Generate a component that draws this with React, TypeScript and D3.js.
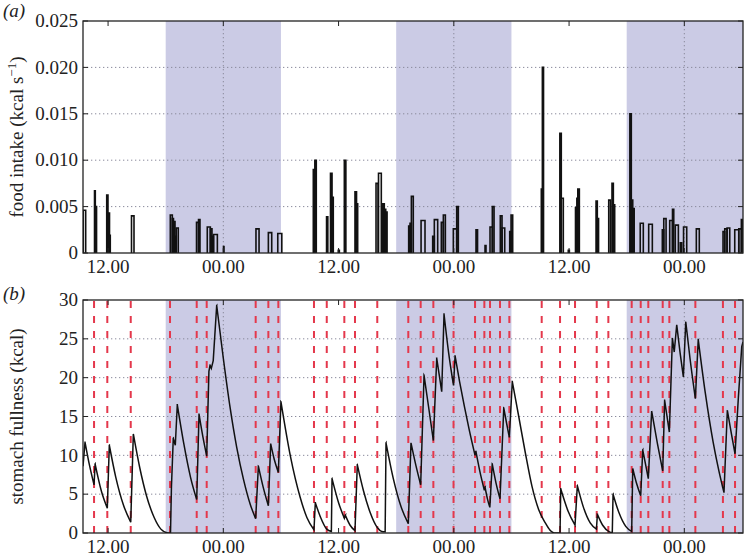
import React from 'react';
import * as d3 from 'd3';

// ---- data (hours since day-1 midnight) ----
const xTickHours = [12, 24, 36, 48, 60, 72];
const xTickLabels = ['12.00', '00.00', '12.00', '00.00', '12.00', '00.00'];
const nightStart = [18, 42, 66];
const nightEnd = [30, 54, 78.11];

const intakeTicks = [0, 0.005, 0.01, 0.015, 0.02, 0.025];
const intakeTickLabels = ['0', '0.005', '0.010', '0.015', '0.020', '0.025'];
const fullnessTicks = [0, 5, 10, 15, 20, 25, 30];
const fullnessTickLabels = ['0', '5', '10', '15', '20', '25', '30'];

// feeding bouts: start (h), end (h), rate (kcal/s)
const mealStart = [
  9.42, 10.59, 10.67, 11.86, 11.99, 12.15, 14.44, 18.48, 18.69, 18.81, 18.97, 19.1,
  21.21, 21.42, 22.33, 22.65, 22.82, 22.98, 24.02, 27.4, 28.69, 29.67,
  33.37, 33.53, 34.75, 35.16, 35.32, 35.97, 36.6, 37.71, 37.87,
  39.9, 40.16, 40.6, 40.76, 40.91,
  43.3, 43.44, 43.58, 44.59, 45.8, 45.97, 46.7, 46.91, 47.95, 48.3, 50.31, 51.25,
  51.77, 52.01, 52.84, 53.02, 53.82, 53.96,
  57.11, 57.22, 59.04, 59.19, 59.92, 60.67, 60.81, 60.91, 62.81, 62.94, 64.13, 64.47, 64.61,
  66.33, 66.48, 66.63, 67.41, 68.29, 69.71, 69.86, 70.48, 70.77, 71.06, 71.58, 71.92,
  73.25, 76.03, 76.21, 76.45, 77.25, 77.67, 77.94,
];
const mealEnd = [
  9.67, 10.67, 10.8, 11.99, 12.15, 12.23, 14.7, 18.69, 18.81, 18.97, 19.1, 19.31,
  21.42, 21.57, 22.65, 22.82, 22.98, 23.38, 24.07, 27.72, 29.04, 30.09,
  33.53, 33.68, 34.88, 35.32, 35.45, 36.08, 36.76, 37.87, 37.99,
  40.11, 40.45, 40.76, 40.91, 41.05,
  43.44, 43.58, 43.78, 45.0, 45.97, 46.32, 46.91, 47.12, 48.3, 48.47, 50.47, 51.35,
  52.01, 52.19, 53.02, 53.3, 53.96, 54.13,
  57.22, 57.34, 59.19, 59.4, 60.03, 60.81, 60.91, 61.07, 62.94, 63.07, 64.32, 64.61, 64.75,
  66.48, 66.63, 66.78, 67.73, 68.67, 69.86, 70.1, 70.77, 70.9, 71.38, 71.73, 72.25,
  73.56, 76.21, 76.45, 76.73, 77.67, 77.94, 78.09,
];
const mealRate = [
  0.0046, 0.0067, 0.005, 0.00625, 0.0043, 0.0019, 0.004, 0.0041, 0.0037, 0.0034, 0.0018, 0.0027,
  0.0033, 0.0036, 0.0028, 0.0026, 0.0018, 0.002, 0.0007, 0.0026, 0.0022, 0.0021,
  0.009, 0.01, 0.0039, 0.0086, 0.006, 0.0003, 0.01, 0.0066, 0.0053,
  0.0075, 0.0086, 0.0053, 0.0047, 0.0044,
  0.0029, 0.0032, 0.0061, 0.0035, 0.0018, 0.0036, 0.0033, 0.0041, 0.0026, 0.005, 0.0025, 0.0008,
  0.0028, 0.005, 0.004, 0.0027, 0.0023, 0.0041,
  0.0069, 0.02, 0.0129, 0.0059, 0.0003, 0.0049, 0.0059, 0.0069, 0.0056, 0.0037, 0.0057, 0.0075, 0.0052,
  0.015, 0.0057, 0.0048, 0.0032, 0.0031, 0.0025, 0.0037, 0.0035, 0.0047, 0.003, 0.0011, 0.0028,
  0.0026, 0.0023, 0.0026, 0.0027, 0.0025, 0.0026, 0.0036,
];

// meal events (red dashed lines)
const mealEventHours = [
  10.54, 11.92, 14.36, 18.45, 21.23, 22.27, 27.37, 28.69, 29.73, 33.44, 34.77, 36.6, 37.71,
  40.03, 43.26, 44.55, 45.87, 47.97, 50.21, 51.18, 51.77, 52.81, 53.78, 57.15, 59.06, 60.62,
  62.88, 64.09, 66.52, 67.46, 68.25, 69.75, 70.44, 73.15, 76.02, 77.28,
];

// stomach fullness (hour, kcal)
const fullness: [number, number][] = [
  [9.39, 8.6], [9.6, 11.7], [10.07, 8.7], [10.54, 6.2],
  [10.65, 8.9], [11.3, 5.4], [11.92, 3.2],
  [12.13, 11.3], [12.8, 7.2], [13.6, 3.6], [14.36, 1.4],
  [14.63, 12.75], [15.3, 8.4], [16.0, 4.8], [16.8, 2.0], [17.5, 0.5], [18.2, 0], [18.5, 0],
  [18.6, 6.0], [18.79, 12.2], [19.0, 11.3], [19.21, 16.5],
  [19.9, 11.4], [20.6, 7.1], [21.23, 4.3],
  [21.47, 15.3], [21.87, 12.4], [22.27, 9.9],
  [22.5, 20.8], [22.62, 21.6], [22.75, 21.2], [22.95, 22.2], [23.31, 29.3],
  [24.0, 22.5], [24.7, 16.2], [25.4, 11.0], [26.1, 6.9], [26.8, 3.7], [27.37, 1.85],
  [27.65, 8.6], [28.15, 5.9], [28.69, 3.5],
  [28.93, 11.5], [29.3, 9.5], [29.73, 7.8],
  [30.0, 16.9], [31.0, 9.8], [32.0, 4.6], [32.7, 2.0], [33.44, 0.4],
  [33.58, 3.9], [34.1, 2.1], [34.77, 0.5], [35.25, 0.2],
  [35.32, 7.0], [36.0, 3.9], [36.6, 1.9],
  [36.7, 2.3], [37.2, 1.0], [37.71, 0.3],
  [37.95, 8.8], [38.6, 5.4], [39.3, 2.6], [40.03, 0.7], [40.5, 0.2], [40.85, 0.15],
  [40.94, 11.6], [41.7, 7.0], [42.5, 3.4], [43.26, 1.2],
  [43.54, 11.6], [44.05, 8.7], [44.55, 6.2],
  [44.9, 20.3], [45.4, 16.0], [45.87, 11.9],
  [46.22, 22.5], [46.5, 20.2], [46.74, 18.2],
  [46.98, 28.2], [47.45, 23.3], [47.97, 19.0],
  [48.13, 22.8], [48.6, 19.5], [49.1, 16.3], [49.6, 13.3], [50.21, 10.0],
  [50.3, 10.5], [50.7, 8.0], [51.18, 5.5],
  [51.25, 5.9], [51.5, 4.4], [51.75, 3.3],
  [52.0, 8.9], [52.4, 6.4], [52.81, 4.4],
  [53.2, 16.1], [53.5, 14.1], [53.78, 12.3],
  [54.09, 19.5], [54.76, 15.0], [55.45, 10.3], [56.14, 6.0], [56.84, 3.0], [57.53, 1.3], [58.0, 0.4], [58.4, 0], [59.06, 0],
  [59.13, 5.7], [59.9, 2.8], [60.62, 1.0],
  [60.86, 6.1], [61.5, 3.3], [62.2, 1.3], [62.85, 0.5],
  [62.95, 2.4], [63.5, 1.0], [64.2, 0.15], [64.5, 0.05],
  [64.58, 5.0], [65.2, 2.6], [65.9, 0.85], [66.52, 0.2],
  [66.63, 8.3], [67.0, 6.5], [67.46, 4.8],
  [67.67, 10.7], [68.0, 8.6], [68.25, 7.0],
  [68.6, 15.7], [69.2, 11.5], [69.75, 8.0],
  [69.95, 17.1], [70.2, 15.0], [70.44, 13.0],
  [70.76, 25.1], [70.95, 23.3], [71.21, 26.8], [71.55, 23.3], [71.9, 20.1],
  [72.15, 27.2], [72.6, 22.4], [73.15, 17.3],
  [73.45, 24.9], [74.2, 17.9], [75.0, 11.7], [75.6, 8.0], [76.13, 5.2],
  [76.48, 15.8], [76.9, 12.8], [77.28, 10.2],
  [77.63, 17.5], [77.98, 24.0], [78.11, 24.6],
];

// ---- layout ----
const W = 744;
const H = 557;
const left = 83;
const right = 743;
const aTop = 21;
const aBottom = 253;
const bTop = 300;
const bBottom = 533;
const FONT = "'Liberation Serif', 'Times New Roman', Times, serif";
const SHADE = '#cbcbe5';
const GRID = '#8a8a9c';
const RED = '#e4384c';

const x = d3.scaleLinear().domain([9.39, 78.11]).range([left, right]);
const ya = d3.scaleLinear().domain([0, 0.025]).range([aBottom, aTop]);
const yb = d3.scaleLinear().domain([0, 30]).range([bBottom, bTop]);

function fullnessPath(pts: [number, number][]): string {
  const mono = d3
    .line<[number, number]>()
    .x((p) => x(p[0]))
    .y((p) => yb(p[1]))
    .curve(d3.curveMonotoneX);
  let d = `M${x(pts[0][0])},${yb(pts[0][1])}`;
  let i = 0;
  while (i < pts.length - 1) {
    if (pts[i + 1][1] < pts[i][1]) {
      let j = i + 1;
      while (j < pts.length - 1 && pts[j + 1][1] < pts[j][1]) j++;
      const seg = mono(pts.slice(i, j + 1)) || '';
      d += 'L' + seg.slice(1);
      i = j;
    } else {
      d += `L${x(pts[i + 1][0])},${yb(pts[i + 1][1])}`;
      i++;
    }
  }
  return d;
}

function Panel(props: {
  top: number;
  bottom: number;
  y: d3.ScaleLinear<number, number>;
  ticks: number[];
  tickLabels: string[];
  clipId: string;
  children?: React.ReactNode;
}) {
  const { top, bottom, y, ticks, tickLabels, clipId, children } = props;
  return (
    <g>
      <defs>
        <clipPath id={clipId}>
          <rect x={left} y={top} width={right - left} height={bottom - top} />
        </clipPath>
      </defs>
      {nightStart.map((s, i) => (
        <rect
          key={'n' + i}
          x={x(s)}
          y={top}
          width={x(nightEnd[i]) - x(s)}
          height={bottom - top}
          fill={SHADE}
          clipPath={`url(#${clipId})`}
        />
      ))}
      {ticks.slice(1, -1).map((t, i) => (
        <line
          key={'hg' + i}
          x1={left}
          x2={right}
          y1={y(t)}
          y2={y(t)}
          stroke={GRID}
          strokeWidth={1}
          strokeDasharray="1.3,2.7"
        />
      ))}
      {xTickHours
        .filter((_, i) => xTickLabels[i] === '00.00')
        .map((h, i) => (
          <line
            key={'vg' + i}
            x1={x(h)}
            x2={x(h)}
            y1={top}
            y2={bottom}
            stroke={GRID}
            strokeWidth={1}
            strokeDasharray="1.3,2.7"
          />
        ))}
      <g clipPath={`url(#${clipId})`}>{children}</g>
      <rect
        x={left}
        y={top}
        width={right - left}
        height={bottom - top}
        fill="none"
        stroke="#222"
        strokeWidth={1.3}
      />
      {ticks.map((t, i) => (
        <g key={'yt' + i}>
          <line x1={left} x2={left + 5} y1={y(t)} y2={y(t)} stroke="#222" />
          <line x1={right - 5} x2={right} y1={y(t)} y2={y(t)} stroke="#222" />
          <text
            x={left - 5}
            y={y(t)}
            dy="0.33em"
            textAnchor="end"
            fontFamily={FONT}
            fontSize={19}
            fill="#222"
          >
            {tickLabels[i]}
          </text>
        </g>
      ))}
      {xTickHours.map((h, i) => (
        <g key={'xt' + i}>
          <line x1={x(h)} x2={x(h)} y1={bottom} y2={bottom - 5} stroke="#222" />
          <line x1={x(h)} x2={x(h)} y1={top} y2={top + 5} stroke="#222" />
          <text
            x={x(h)}
            y={bottom + 20}
            textAnchor="middle"
            fontFamily={FONT}
            fontSize={19}
            fill="#222"
          >
            {xTickLabels[i]}
          </text>
        </g>
      ))}
    </g>
  );
}

export default function App() {
  const bars = mealStart.map((s, i) => {
    const x0 = x(s);
    const x1 = x(mealEnd[i]);
    const y0 = ya(0);
    const y1 = ya(mealRate[i]);
    return `M${x0},${y0}V${y1}H${x1}V${y0}`;
  });
  return (
    <svg
      width={W}
      height={H}
      viewBox={`0 0 ${W} ${H}`}
      style={{ position: 'absolute', left: 0, top: 0, background: '#fff' }}
    >
      <rect x={0} y={0} width={W} height={H} fill="#fff" />
      <Panel
        top={aTop}
        bottom={aBottom}
        y={ya}
        ticks={intakeTicks}
        tickLabels={intakeTickLabels}
        clipId="clipA"
      >
        {bars.map((d, i) => (
          <path key={i} d={d} fill="none" stroke="#111" strokeWidth={1.6} />
        ))}
      </Panel>
      <Panel
        top={bTop}
        bottom={bBottom}
        y={yb}
        ticks={fullnessTicks}
        tickLabels={fullnessTickLabels}
        clipId="clipB"
      >
        {mealEventHours.map((h, i) => (
          <line
            key={i}
            x1={x(h)}
            x2={x(h)}
            y1={bTop}
            y2={bBottom}
            stroke={RED}
            strokeWidth={2}
            strokeDasharray="7,8"
            strokeDashoffset={-1}
          />
        ))}
        <path d={fullnessPath(fullness)} fill="none" stroke="#111" strokeWidth={1.5} />
      </Panel>
      <text x={3} y={17} fontFamily={FONT} fontSize={19} fontStyle="italic" fill="#222">
        (a)
      </text>
      <text x={3} y={300} fontFamily={FONT} fontSize={19} fontStyle="italic" fill="#222">
        (b)
      </text>
      <text
        transform={`translate(23, ${(aTop + aBottom) / 2}) rotate(-90)`}
        textAnchor="middle"
        fontFamily={FONT}
        fontSize={19}
        fill="#222"
      >
        food intake (kcal s
        <tspan fontSize={13} dy={-7}>
          −1
        </tspan>
        <tspan dy={7}>)</tspan>
      </text>
      <text
        transform={`translate(23, ${(bTop + bBottom) / 2}) rotate(-90)`}
        textAnchor="middle"
        fontFamily={FONT}
        fontSize={19}
        fill="#222"
      >
        stomach fullness (kcal)
      </text>
    </svg>
  );
}
